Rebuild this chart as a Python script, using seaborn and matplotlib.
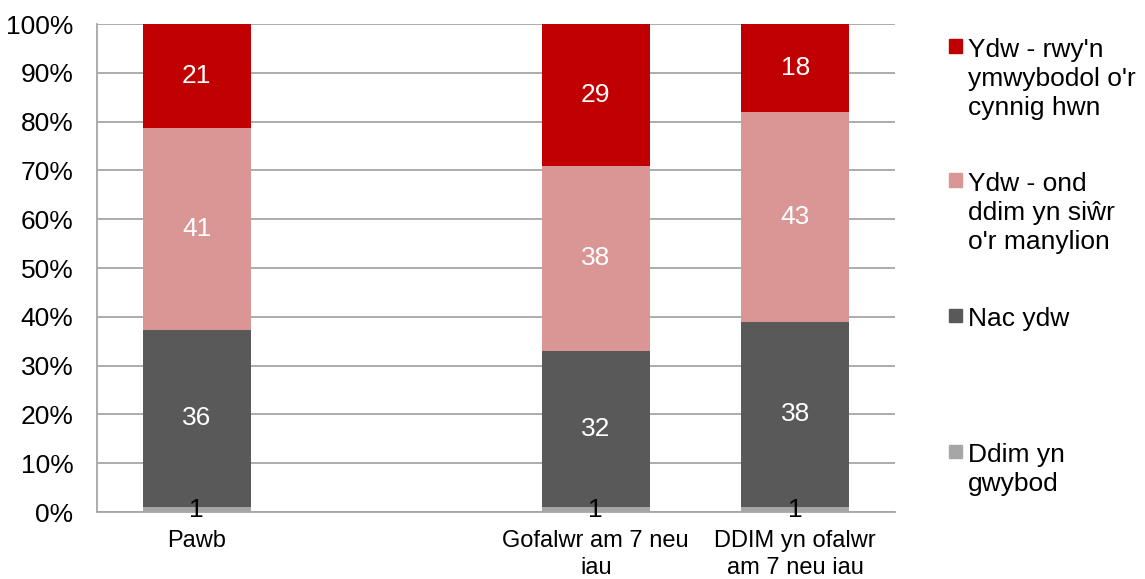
import matplotlib
matplotlib.use("Agg")
import matplotlib.pyplot as plt
import seaborn as sns
import pandas as pd
from matplotlib.patches import Rectangle

# categories (the empty string leaves the gap slot seen in the chart)
groups = ["Pawb", "", "Gofalwr am 7 neu\niau", "DDIM yn ofalwr\nam 7 neu iau"]
bar_groups = ["Pawb", "Gofalwr am 7 neu\niau", "DDIM yn ofalwr\nam 7 neu iau"]

# series values (%), bottom to top
dont_know = [1, 1, 1]
no = [36, 32, 38]
yes_unsure = [41, 38, 43]
yes_aware = [21, 29, 18]

series_labels = ["Ddim yn\ngwybod", "Nac ydw", "Ydw - ond\nddim yn siŵr\no'r manylion",
                 "Ydw - rwy'n\nymwybodol o'r\ncynnig hwn"]
colors = ["#A6A6A6", "#595959", "#D99694", "#C00000"]
label_colors = ["black", "white", "white", "white"]

df = pd.DataFrame({"group": bar_groups, "s0": dont_know, "s1": no,
                   "s2": yes_unsure, "s3": yes_aware})
cols = ["s0", "s1", "s2", "s3"]
total = df[cols].sum(axis=1)
cum = df[cols].cumsum(axis=1).div(total, axis=0) * 100

sns.set_style("white")
plt.rcParams["font.family"] = ["Liberation Sans", "DejaVu Sans"]

W, H = 1145, 579
fig = plt.figure(figsize=(W / 100, H / 100), dpi=100)
ax = fig.add_axes([97 / W, 67 / H, 798 / W, 488 / H])

# stacked bars: draw cumulative totals from the top layer down
for i in range(3, -1, -1):
    sns.barplot(x=df["group"], y=cum[cols[i]], order=groups, color=colors[i],
                width=0.54, saturation=1, errorbar=None, linewidth=0, ax=ax, zorder=2)

# value labels
pos = {g: groups.index(g) for g in bar_groups}
for r, g in enumerate(bar_groups):
    for i, c in enumerate(cols):
        top = cum.loc[r, c]
        bottom = cum.loc[r, cols[i - 1]] if i > 0 else 0
        ax.text(pos[g], (top + bottom) / 2, str(df.loc[r, c]), ha="center", va="center",
                color=label_colors[i], fontsize=19, zorder=3)

ax.set_xlim(-0.5, 3.5)
ax.set_ylim(0, 100)
ax.set_yticks(range(0, 101, 10))
ax.set_yticklabels([f"{v}%" for v in range(0, 101, 10)])
ax.set_xlabel("")
ax.set_ylabel("")
ax.set_xticks(range(4))
ax.set_xticklabels(groups)
for lab in ax.get_xticklabels():
    lab.set_linespacing(1.3)
ax.set_xticks([-0.5, 0.5, 1.5, 2.5, 3.5], minor=True)
ax.tick_params(axis="x", which="major", length=0, pad=13, labelsize=17, colors="black")
ax.tick_params(axis="x", which="minor", length=6, width=1.3, color="#A6A6A6", direction="out")
ax.tick_params(axis="y", length=6, width=1.3, color="#A6A6A6", pad=11, labelsize=19,
               direction="out", labelcolor="black")
ax.yaxis.grid(True, color="#A6A6A6", linewidth=1.3, zorder=0)
ax.set_axisbelow(True)
for s in ["top", "right"]:
    ax.spines[s].set_visible(False)
for s in ["left", "bottom"]:
    ax.spines[s].set_color("#A6A6A6")
    ax.spines[s].set_linewidth(1.3)

# legend drawn by hand to keep the uneven spacing of the original
legend_rows = [(3, 46), (2, 180), (1, 315), (0, 451)]
for i, yc in legend_rows:
    fig.add_artist(Rectangle((949 / W, 1 - (yc + 6.5) / H), 13 / W, 13 / H,
                             transform=fig.transFigure, color=colors[i]))
    fig.text(968 / W, 1 - (yc - 8) / H, series_labels[i], va="top", ha="left",
             fontsize=19, linespacing=1.27, color="black")

fig.savefig("out.png", dpi=100)
